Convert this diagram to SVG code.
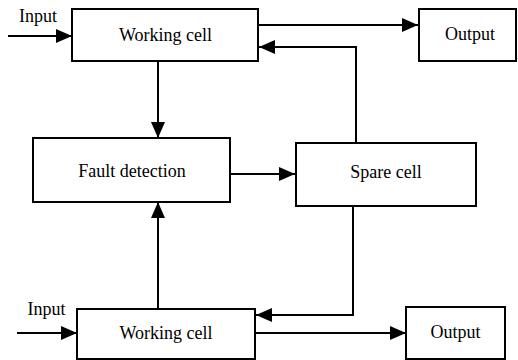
<svg xmlns="http://www.w3.org/2000/svg" width="518" height="360" viewBox="0 0 518 360">
<style>
.box{fill:#fff;stroke:#000;stroke-width:2}
text{font-family:'Liberation Serif','Times New Roman',serif;font-size:18px;fill:#000;text-anchor:middle}
.c{fill:none;stroke:#000;stroke-width:2}
</style>
<defs>
<marker id="ah" markerWidth="16" markerHeight="14" refX="16" refY="7" orient="auto" markerUnits="userSpaceOnUse">
<path d="M0,0 L16,7 L0,14 Z" fill="#000"/>
</marker>
</defs>
<rect width="518" height="360" fill="#fff"/>
<g id="connectors">
<line class="c" x1="8" y1="36" x2="72" y2="36" marker-end="url(#ah)"/>
<line class="c" x1="258" y1="25" x2="418" y2="25" marker-end="url(#ah)"/>
<polyline class="c" points="356,143 356,47 259,47" marker-end="url(#ah)"/>
<line class="c" x1="158" y1="61" x2="158" y2="138" marker-end="url(#ah)"/>
<line class="c" x1="230" y1="174" x2="295" y2="174" marker-end="url(#ah)"/>
<polyline class="c" points="353,206 353,315 256,315" marker-end="url(#ah)"/>
<line class="c" x1="158" y1="308" x2="158" y2="202" marker-end="url(#ah)"/>
<line class="c" x1="17" y1="333" x2="77" y2="333" marker-end="url(#ah)"/>
<line class="c" x1="255" y1="333" x2="406" y2="333" marker-end="url(#ah)"/>
</g>
<g id="input-top"><text x="38" y="22">Input</text></g>
<g id="working-cell-top"><rect class="box" x="72" y="9" width="186" height="52"/><text x="165.5" y="41">Working cell</text></g>
<g id="output-top"><rect class="box" x="419" y="9" width="97" height="52"/><text x="470" y="40">Output</text></g>
<g id="fault-detection"><rect class="box" x="33" y="138" width="197" height="64"/><text x="132" y="177">Fault detection</text></g>
<g id="spare-cell"><rect class="box" x="296" y="143" width="180" height="63"/><text x="386" y="178">Spare cell</text></g>
<g id="input-bottom"><text x="46.5" y="315">Input</text></g>
<g id="working-cell-bottom"><rect class="box" x="77" y="309" width="178" height="50"/><text x="166" y="339">Working cell</text></g>
<g id="output-bottom"><rect class="box" x="406" y="307" width="99" height="52"/><text x="455.5" y="338">Output</text></g>
</svg>
